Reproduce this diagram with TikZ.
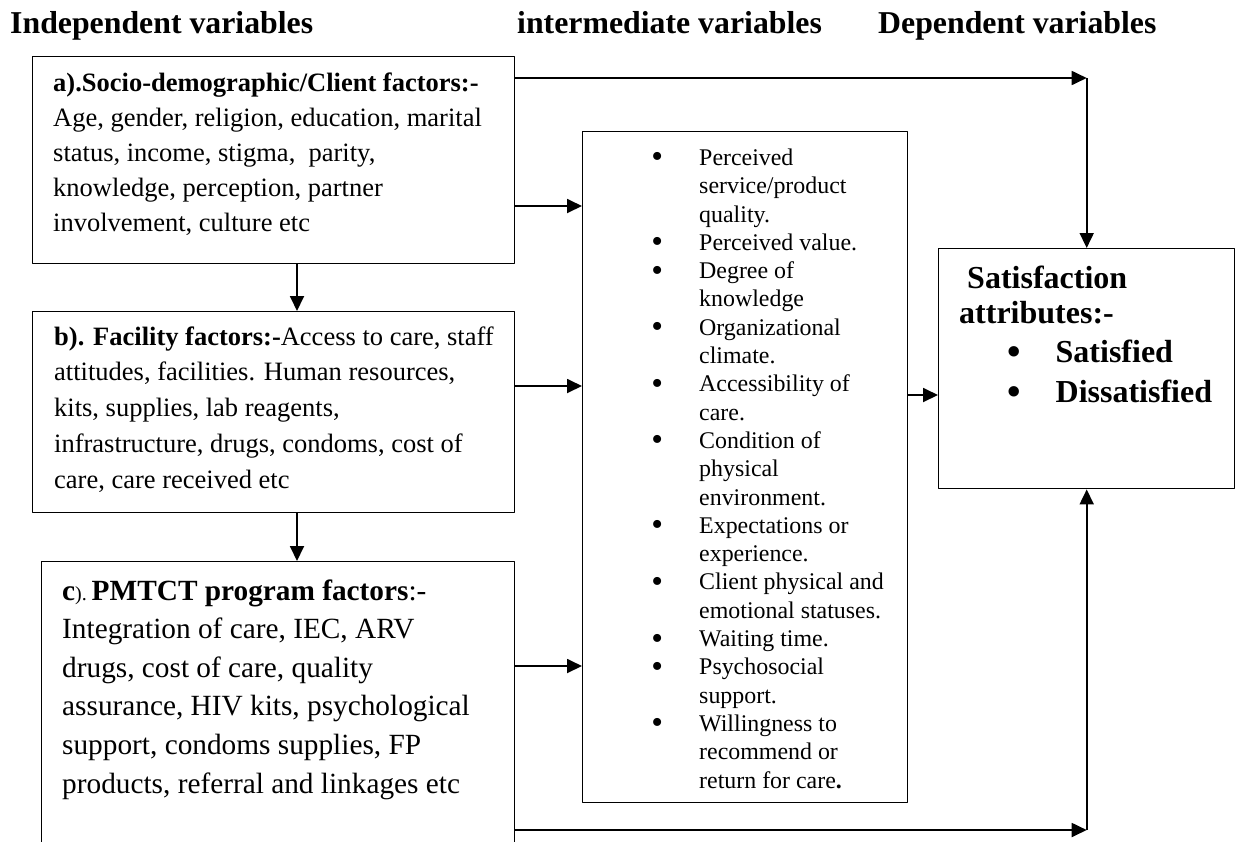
\documentclass[tikz,border=0pt]{standalone}
\usepackage{fontspec}
\setmainfont{Liberation Serif}
\usetikzlibrary{arrows.meta}

\newcommand{\mybullet}{\llap{\raisebox{-2.5pt}{\scalebox{1.4}{\textbullet}}\hspace{36pt}}}

\begin{document}
\begin{tikzpicture}[
  x=1pt, y=-1pt,
  line join=round,
  >={Triangle[length=15pt,width=14pt]},
  myarrow/.style={->, line width=1.8pt},
  mybox/.style={draw, line width=1.4pt, inner sep=0pt, anchor=north west},
  myhead/.style={font=\fontsize{31.8}{31.8}\selectfont\bfseries, inner sep=0pt, anchor=base west},
  mytext/.style={align=left, inner sep=0pt, anchor=base west}
]

\path[use as bounding box, clip] (0,0) rectangle (1238,841);

% column titles
\node[myhead] (indep) at (10,33) {Independent variables};
\node[myhead] (inter) at (517,33) {intermediate variables};
\node[myhead] (dep) at (878,33) {Dependent variables};

% boxes
\node[mybox, minimum width=482, minimum height=207] (socio) at (32,56) {};
\node[mybox, minimum width=482, minimum height=201] (facil) at (32,311) {};
\node[mybox, minimum width=473, minimum height=300] (pmtct) at (41,561) {};
\node[mybox, line width=1pt, minimum width=325, minimum height=671] (mid) at (582,131) {};
\node[mybox, minimum width=296, minimum height=240] (sat) at (938,248) {};

% box texts (base = baseline of the last line)
\node[mytext, font=\fontsize{26.5}{34.8}\selectfont] (sociotxt) at (53,231)
  {\textbf{a).Socio-demographic/Client factors:-}\\
   Age, gender, religion, education, marital\\
   status, income, stigma,\ \ parity,\\
   knowledge, perception, partner\\
   involvement, culture etc};
\node[mytext, font=\fontsize{26.5}{35.7}\selectfont] (faciltxt) at (54,488)
  {\textbf{b). Facility factors:-}Access to care, staff\\
   attitudes, facilities. Human resources,\\
   kits, supplies, lab reagents,\\
   infrastructure, drugs, condoms, cost of\\
   care, care received etc};
\node[mytext, font=\fontsize{29.3}{38.6}\selectfont] (pmtcttxt) at (62,793)
  {\textbf{c}{\fontsize{20}{20}\selectfont).}\,\textbf{PMTCT program factors}:-\\
   Integration of care, IEC, ARV\\
   drugs, cost of care, quality\\
   assurance, HIV kits, psychological\\
   support, condoms supplies, FP\\
   products, referral and linkages etc};
\node[mytext, font=\fontsize{23.9}{28.3}\selectfont] (midtxt) at (699,788)
  {\mybullet Perceived\\ service/product\\ quality.\\
   \mybullet Perceived value.\\
   \mybullet Degree of\\ knowledge\\
   \mybullet Organizational\\ climate.\\
   \mybullet Accessibility of\\ care.\\
   \mybullet Condition of\\ physical\\ environment.\\
   \mybullet Expectations or\\ experience.\\
   \mybullet Client physical and\\ emotional statuses.\\
   \mybullet Waiting time.\\
   \mybullet Psychosocial\\ support.\\
   \mybullet Willingness to\\ recommend or\\ return for care\textbf{.}};
\node[mytext, font=\fontsize{32}{39.5}\selectfont\bfseries] (sattxt) at (959,402)
  {\hspace{8pt}Satisfaction\\[-4.5pt]
   attributes:-\\
   \hspace{48pt}\raisebox{-2pt}{\scalebox{1.2}{\textbullet}}\hspace{35pt}Satisfied\\
   \hspace{48pt}\raisebox{-2pt}{\scalebox{1.2}{\textbullet}}\hspace{35pt}Dissatisfied};

% connector levels
\coordinate (ytop) at (0,78);
\coordinate (ya) at (0,206);
\coordinate (yb) at (0,386);
\coordinate (yc) at (0,666);
\coordinate (ysat) at (0,395);
\coordinate (ybot) at (0,830);
\coordinate (xdown) at (297,0);

\draw[myarrow] (socio.south -| xdown) -- (facil.north -| xdown);
\draw[myarrow] (facil.south -| xdown) -- (pmtct.north -| xdown);
\draw[myarrow] (socio.east |- ya) -- (mid.west |- ya);
\draw[myarrow] (facil.east |- yb) -- (mid.west |- yb);
\draw[myarrow] (pmtct.east |- yc) -- (mid.west |- yc);
\draw[myarrow] (mid.east |- ysat) -- (sat.west |- ysat);
% long ways round to the outcome box
\draw[myarrow] (socio.east |- ytop) -- (sat.north |- ytop);
\draw[myarrow] (sat.north |- ytop) -- (sat.north);
\draw[myarrow] (pmtct.east |- ybot) -- (sat.south |- ybot);
\draw[myarrow] (sat.south |- ybot) -- (sat.south);

\end{tikzpicture}
\end{document}
